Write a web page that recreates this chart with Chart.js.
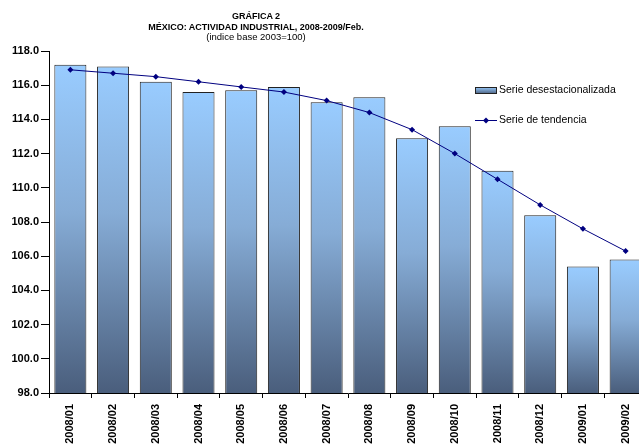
<!DOCTYPE html>
<html lang="es">
<head>
  <meta charset="UTF-8">
  <title>Gráfica 2 - México: actividad industrial</title>
  <script src="https://cdn.jsdelivr.net/npm/chart.js"></script>
  <style>
    html, body { margin: 0; padding: 0; background: #fff; overflow: hidden; }
    body { width: 639px; height: 445px; position: relative; font-family: "Liberation Sans", Arial, sans-serif; }
    .titles { position: absolute; left: 0; top: 11px; width: 512px; text-align: center; color: #000; z-index: 2; }
    .titles div { height: 10.7px; line-height: 10.7px; white-space: nowrap; }
    .t1, .t2 { font-weight: bold; font-size: 9px; }
    .t3 { font-size: 9.5px; }
    .chart-container { position: absolute; left: 0; top: 0; width: 651px; height: 445px; }
  </style>
</head>
<body>
  <div class="titles">
    <div class="t1">GRÁFICA 2</div>
    <div class="t2">MÉXICO: ACTIVIDAD INDUSTRIAL, 2008-2009/Feb.</div>
    <div class="t3">(indice base 2003=100)</div>
  </div>
  <div class="chart-container"><canvas id="chart"></canvas></div>
<script>
  const months = ['2008/01','2008/02','2008/03','2008/04','2008/05','2008/06','2008/07',
                  '2008/08','2008/09','2008/10','2008/11','2008/12','2009/01','2009/02'];
  const desestacionalizada = [117.2, 117.1, 116.2, 115.6, 115.7, 115.9, 115.0,
                              115.3, 112.9, 113.6, 111.0, 108.4, 105.4, 105.8];
  const tendencia = [116.9, 116.7, 116.5, 116.2, 115.9, 115.6, 115.1,
                     114.4, 113.4, 112.0, 110.5, 109.0, 107.6, 106.3];
  const yMin = 98, yMax = 118, yStep = 2;

  const FONT = '"Liberation Sans", Arial, sans-serif';
  const LIGHT = '#99ccff', DARK = '#4a5e7c', NAVY = '#000080';

  // each bar gets its own gradient, light at top, dark at the base
  function barGradient(ctx) {
    const chart = ctx.chart;
    if (!chart.chartArea || ctx.type !== 'data') return LIGHT;
    const y = chart.scales.y;
    const top = y.getPixelForValue(ctx.raw);
    const bottom = y.getPixelForValue(yMin);
    const g = chart.ctx.createLinearGradient(0, top, 0, bottom);
    g.addColorStop(0, LIGHT);
    g.addColorStop(0.45, '#86acd6');
    g.addColorStop(1, DARK);
    return g;
  }

  const legendPlugin = {
    id: 'sideLegend',
    afterDraw(chart) {
      const c = chart.ctx;
      c.save();
      // bar entry
      const g = c.createLinearGradient(0, 87, 0, 94);
      g.addColorStop(0, LIGHT);
      g.addColorStop(1, DARK);
      c.fillStyle = g;
      c.fillRect(475, 87, 22, 7);
      c.strokeStyle = '#222';
      c.lineWidth = 1;
      c.strokeRect(475.5, 87.5, 21, 6);
      // line entry
      c.strokeStyle = NAVY;
      c.beginPath();
      c.moveTo(475, 120.5);
      c.lineTo(497, 120.5);
      c.stroke();
      c.fillStyle = NAVY;
      c.beginPath();
      c.moveTo(486, 117.5); c.lineTo(489, 120.5); c.lineTo(486, 123.5); c.lineTo(483, 120.5);
      c.closePath();
      c.fill();
      c.fillStyle = '#000';
      c.font = '10.5px ' + FONT;
      c.textBaseline = 'middle';
      c.fillText('Serie desestacionalizada', 499, 90.5);
      c.fillText('Serie de tendencia', 499, 120.5);
      c.restore();
    }
  };

  new Chart(document.getElementById('chart'), {
    type: 'bar',
    data: {
      labels: months,
      datasets: [{
        type: 'line',
        label: 'Serie de tendencia',
        data: tendencia,
        borderColor: NAVY,
        backgroundColor: NAVY,
        borderWidth: 1,
        pointStyle: 'rectRot',
        pointRadius: 3,
        pointBorderWidth: 0,
        tension: 0,
        order: 0
      }, {
        label: 'Serie desestacionalizada',
        data: desestacionalizada,
        backgroundColor: barGradient,
        borderColor: '#222',
        borderWidth: 1,
        barPercentage: 0.75,
        categoryPercentage: 1,
        order: 1
      }]
    },
    options: {
      responsive: true,
      maintainAspectRatio: false,
      animation: false,
      layout: { padding: { top: 51, left: 0, right: 0, bottom: 0 } },
      plugins: {
        legend: { display: false },
        tooltip: { enabled: false },
        title: { display: false }
      },
      scales: {
        x: {
          grid: {
            offset: true,
            drawOnChartArea: false,
            drawTicks: true,
            tickLength: 5,
            color: '#000'
          },
          border: { color: '#000', width: 1 },
          ticks: {
            color: '#000',
            maxRotation: 90,
            minRotation: 90,
            padding: 6,
            autoSkip: false,
            font: { family: FONT, size: 11, weight: 'bold' }
          },
          afterFit(scale) {
            scale.height = 52;
            scale.paddingLeft = 0;
            scale.paddingRight = 0;
          }
        },
        y: {
          min: yMin,
          max: yMax,
          grid: {
            drawOnChartArea: false,
            drawTicks: true,
            tickLength: 8,
            color: '#000'
          },
          border: { color: '#000', width: 1 },
          ticks: {
            stepSize: yStep,
            color: '#000',
            padding: 2,
            font: { family: FONT, size: 11, weight: 'bold' },
            callback: v => v.toFixed(1)
          },
          afterFit(scale) {
            scale.width = 49;
            scale.paddingTop = 0;
            scale.paddingBottom = 0;
          }
        }
      }
    },
    plugins: [legendPlugin]
  });
</script>
</body>
</html>
